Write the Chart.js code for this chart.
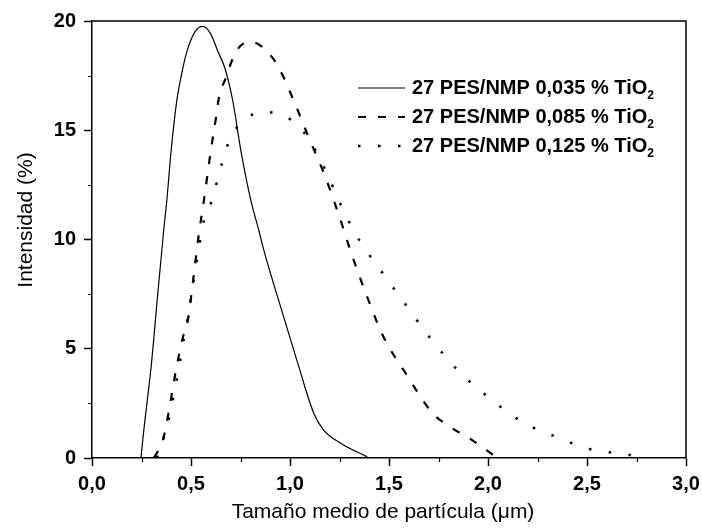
<!DOCTYPE html>
<html>
<head>
<meta charset="utf-8">
<script src="https://cdn.jsdelivr.net/npm/chart.js@4.4.1/dist/chart.umd.min.js"></script>
<style>
  body { margin: 0; background: #fff; }
  canvas { display: block; }
</style>
</head>
<body>
<canvas id="chart" width="702" height="530"></canvas>
<script>
// series labels (last "2" is drawn as subscript)
const seriesLabels = ['27 PES/NMP 0,035 % TiO2', '27 PES/NMP 0,085 % TiO2', '27 PES/NMP 0,125 % TiO2'];

// 0,035 % TiO2 - solid
const size035 = [0.247, 0.262, 0.300, 0.330, 0.362, 0.378, 0.400, 0.429, 0.459, 0.479, 0.52, 0.560, 0.60, 0.636, 0.671, 0.711, 0.752, 0.802, 0.843, 0.868, 0.938, 1.039, 1.12, 1.17, 1.256, 1.39];
const int035 = [0, 1.3, 4.3, 7.3, 10.4, 11.8, 14.1, 16.4, 17.85, 18.6, 19.5, 19.75, 19.4, 18.6, 17.85, 16.35, 14.06, 11.8, 10.4, 9.5, 7.35, 4.34, 2.05, 1.28, 0.68, 0.05];

// 0,085 % TiO2 - dashed
const size085 = [0.313, 0.358, 0.389, 0.424, 0.459, 0.484, 0.515, 0.540, 0.565, 0.600, 0.626, 0.641, 0.676, 0.727, 0.802, 0.913, 0.969, 1.019, 1.095, 1.18, 1.251, 1.317, 1.387, 1.473, 1.584, 1.72, 1.81, 1.92, 2.04];
const int085 = [0, 0.82, 2.19, 4.02, 5.53, 6.3, 8.45, 10.27, 11.78, 14.06, 15.57, 16.48, 17.4, 18.6, 19.05, 18.3, 17.4, 16.35, 14.66, 12.83, 11.0, 9.18, 7.44, 5.53, 3.88, 2.05, 1.42, 0.82, 0.05];

// 0,125 % TiO2 - dotted
const size125 = [0.328, 0.383, 0.434, 0.464, 0.494, 0.535, 0.565, 0.600, 0.646, 0.671, 0.701, 0.767, 0.853, 0.918, 1.004, 1.09, 1.181, 1.251, 1.342, 1.458, 1.579, 1.705, 1.847, 2.008, 2.175, 2.346, 2.513, 2.684, 2.78];
const int125 = [0, 1.6, 3.88, 5.48, 6.99, 9.36, 10.87, 11.64, 13.15, 13.93, 14.7, 15.43, 15.84, 15.8, 15.48, 14.66, 13.15, 11.69, 10.09, 8.58, 7.08, 5.53, 4.02, 2.74, 1.64, 0.96, 0.41, 0.18, 0.05];

const xTitle = 'Tamaño medio de partícula (μm)';
const yTitle = 'Intensidad (%)';

const FONT = '"Liberation Sans", Arial, sans-serif';

function pts(xs, ys) {
    return xs.map((x, i) => ({ x: x, y: ys[i] }));
}

// minor ticks, top/right frame, axis titles and the legend box
const extras = {
    id: 'extras',
    afterDraw(chart) {
        const ctx = chart.ctx;
        const a = chart.chartArea;
        const xs = chart.scales.x;
        const ys = chart.scales.y;
        ctx.save();
        ctx.strokeStyle = '#000';
        ctx.lineWidth = 1.5;
        // frame top + right
        ctx.beginPath();
        ctx.moveTo(a.left, a.top);
        ctx.lineTo(a.right, a.top);
        ctx.lineTo(a.right, a.bottom);
        ctx.stroke();
        // minor ticks
        ctx.lineWidth = 1.2;
        ctx.beginPath();
        for (let v = 0.25; v < 3; v += 0.5) {
            const px = Math.round(xs.getPixelForValue(v)) + 0.5;
            ctx.moveTo(px, a.bottom);
            ctx.lineTo(px, a.bottom + 4);
        }
        for (let v = 2.5; v < 20; v += 5) {
            const py = Math.round(ys.getPixelForValue(v)) + 0.5;
            ctx.moveTo(a.left, py);
            ctx.lineTo(a.left - 4, py);
        }
        ctx.stroke();

        // axis titles
        ctx.fillStyle = '#000';
        ctx.font = '21px ' + FONT;
        ctx.textAlign = 'center';
        ctx.textBaseline = 'middle';
        ctx.fillText(xTitle, 383, 512);
        ctx.save();
        ctx.translate(26, 220);
        ctx.rotate(-Math.PI / 2);
        ctx.fillText(yTitle, 0, 0);
        ctx.restore();

        // legend
        chart.data.datasets.forEach((ds, i) => {
            const y = 88 + i * 29;
            ctx.save();
            ctx.strokeStyle = ds.borderColor;
            ctx.lineWidth = ds.borderWidth;
            ctx.setLineDash(ds.borderDash || []);
            ctx.beginPath();
            ctx.moveTo(358, y);
            ctx.lineTo(405, y);
            ctx.stroke();
            ctx.restore();

            const main = ds.label.slice(0, -1);
            const sub = ds.label.slice(-1);
            ctx.textAlign = 'left';
            ctx.textBaseline = 'middle';
            ctx.font = 'bold 20px ' + FONT;
            ctx.fillText(main, 412, y);
            const w = ctx.measureText(main).width;
            ctx.font = 'bold 12px ' + FONT;
            ctx.fillText(sub, 412 + w, y + 8);
        });
        ctx.restore();
    }
};

new Chart(document.getElementById('chart'), {
    type: 'scatter',
    data: {
        datasets: [{
            label: seriesLabels[0],
            data: pts(size035, int035),
            showLine: true,
            borderColor: '#000',
            borderWidth: 1.2,
            borderDash: [],
            pointRadius: 0,
            cubicInterpolationMode: 'monotone',
        }, {
            label: seriesLabels[1],
            data: pts(size085, int085),
            showLine: true,
            borderColor: '#000',
            borderWidth: 2.2,
            borderDash: [8, 12],
            pointRadius: 0,
            cubicInterpolationMode: 'monotone',
        }, {
            label: seriesLabels[2],
            data: pts(size125, int125),
            showLine: true,
            borderColor: '#000',
            borderWidth: 2.5,
            borderDash: [2.5, 17.5],
            pointRadius: 0,
            cubicInterpolationMode: 'monotone',
        }]
    },
    options: {
        responsive: false,
        animation: false,
        layout: {
            padding: { top: 21, right: 16, left: 0, bottom: 0 }
        },
        plugins: {
            legend: { display: false },
            tooltip: { enabled: false },
        },
        scales: {
            x: {
                type: 'linear',
                min: 0,
                max: 3,
                afterFit: (s) => {
                    s.height = 72;
                    s.paddingLeft = 0;
                    s.paddingRight = 0;
                },
                ticks: {
                    stepSize: 0.5,
                    padding: 6,
                    color: '#000',
                    font: { family: FONT, size: 20, weight: 'bold' },
                    callback: (v) => v.toFixed(1).replace('.', ','),
                },
                grid: {
                    drawOnChartArea: false,
                    tickLength: 8,
                    tickWidth: 1.5,
                    tickColor: '#000',
                },
                border: { color: '#000', width: 1.5 },
            },
            y: {
                min: 0,
                max: 20,
                afterFit: (s) => { s.width = 92; },
                ticks: {
                    stepSize: 5,
                    padding: 8,
                    color: '#000',
                    font: { family: FONT, size: 20, weight: 'bold' },
                },
                grid: {
                    drawOnChartArea: false,
                    tickLength: 8,
                    tickWidth: 1.5,
                    tickColor: '#000',
                },
                border: { color: '#000', width: 1.5 },
            }
        }
    },
    plugins: [extras]
});
</script>
</body>
</html>
